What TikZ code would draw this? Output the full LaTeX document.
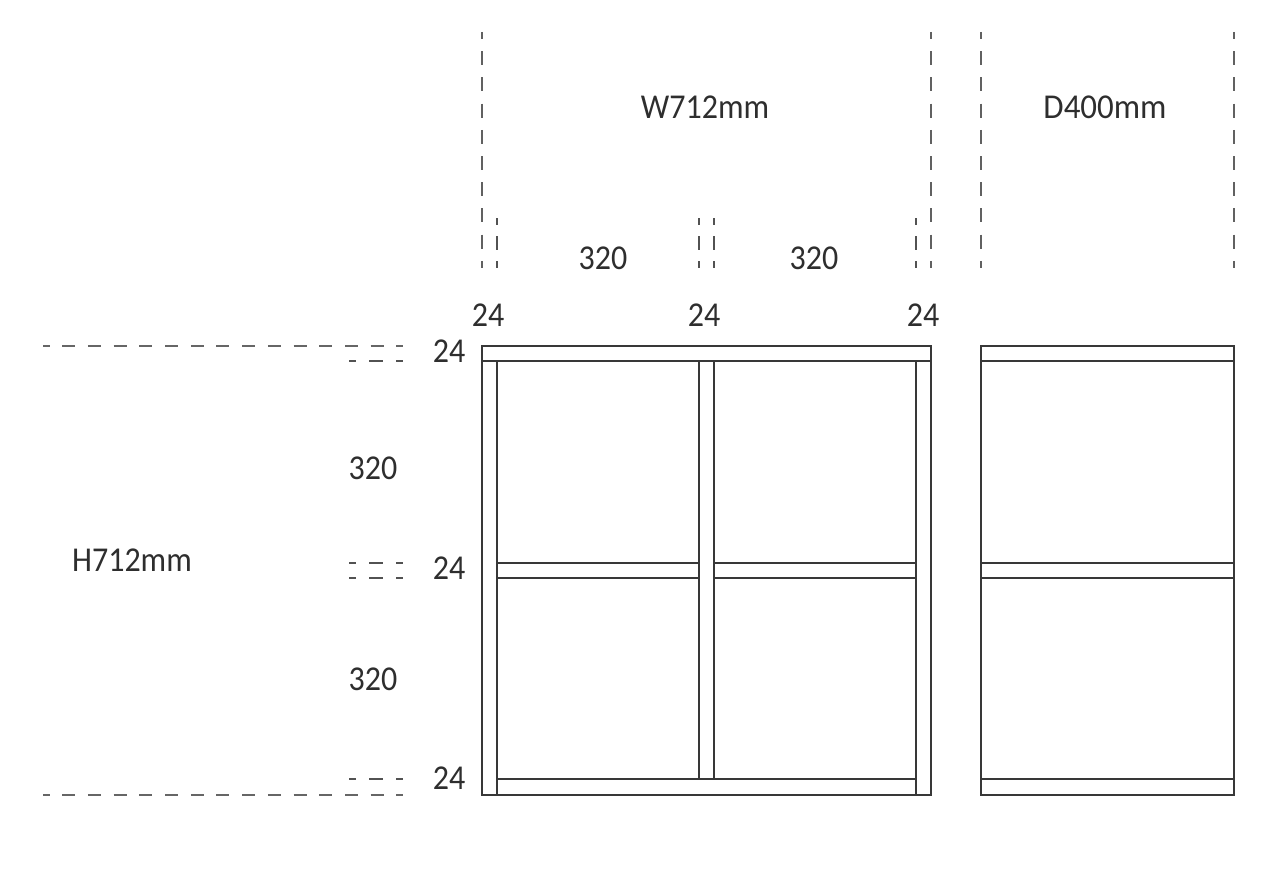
\documentclass[tikz,border=0pt]{standalone}
\usepackage{graphicx}
\usepackage{fontspec}
\setmainfont{Carlito}
\newcommand{\tallbox}[2][1]{\scalebox{#1}[1.09]{#2}}
\tikzset{
  x=1pt,y=-1pt,
  panel/.style={draw=black!78,line width=1.5pt},
  longv/.style={draw=black!62,line width=1.6pt,dash pattern=on 14pt off 12.2pt,dash phase=7pt},
  shortv/.style={draw=black!68,line width=1.4pt,dash pattern=on 14pt off 11pt,dash phase=7pt},
  longh/.style={draw=black!60,line width=2pt,dash pattern=on 13pt off 12.71pt,dash phase=6.5pt},
  shorth/.style={draw=black!68,line width=1.4pt,dash pattern=on 14pt off 13pt,dash phase=7pt},
  dim/.style={inner sep=0pt,text=black!82,font=\fontsize{32}{32}\selectfont,anchor=center}
}
\begin{document}
\begin{tikzpicture}
\useasboundingbox (0,0) rectangle (1280,883);
% front view
\draw[panel] (482,346) rectangle (931,795);
\draw[panel] (482,361) -- (931,361);
\draw[panel] (497,361) -- (497,795);
\draw[panel] (916,361) -- (916,795);
\draw[panel] (699,361) -- (699,779);
\draw[panel] (714,361) -- (714,779);
\draw[panel] (497,563) -- (699,563);
\draw[panel] (497,578) -- (699,578);
\draw[panel] (714,563) -- (916,563);
\draw[panel] (714,578) -- (916,578);
\draw[panel] (497,779) -- (916,779);
% side view
\draw[panel] (981,346) rectangle (1234,795);
\draw[panel] (981,361) -- (1234,361);
\draw[panel] (981,563) -- (1234,563);
\draw[panel] (981,578) -- (1234,578);
\draw[panel] (981,779) -- (1234,779);
% vertical dimension dashes
\foreach \px in {482,931,981,1234} \draw[longv] (\px,32) -- (\px,268);
\foreach \px in {497,699,714,916} \draw[shortv] (\px,218) -- (\px,268);
% horizontal dimension dashes
\foreach \py in {346,795} \draw[longh] (43,\py) -- (403,\py);
\foreach \py in {361,563,578,779} \draw[shorth] (349,\py) -- (403,\py);
% labels
\node[dim] (w) at (705,107) {\tallbox{W712mm}};
\node[dim] (d) at (1105,107) {\tallbox[1.03]{D400mm}};
\node[dim] (h) at (132,560) {\tallbox{H712mm}};
\node[dim] (wa) at (603,258) {\tallbox{320}};
\node[dim] (wb) at (814,258) {\tallbox{320}};
\node[dim] (ta) at (488,315) {\tallbox{24}};
\node[dim] (tb) at (704,315) {\tallbox{24}};
\node[dim] (tc) at (923,315) {\tallbox{24}};
\node[dim] (la) at (449,351) {\tallbox{24}};
\node[dim] (lb) at (449,568) {\tallbox{24}};
\node[dim] (lc) at (449,778) {\tallbox{24}};
\node[dim] (ha) at (373,468) {\tallbox{320}};
\node[dim] (hb) at (373,679) {\tallbox{320}};
\end{tikzpicture}
\end{document}
